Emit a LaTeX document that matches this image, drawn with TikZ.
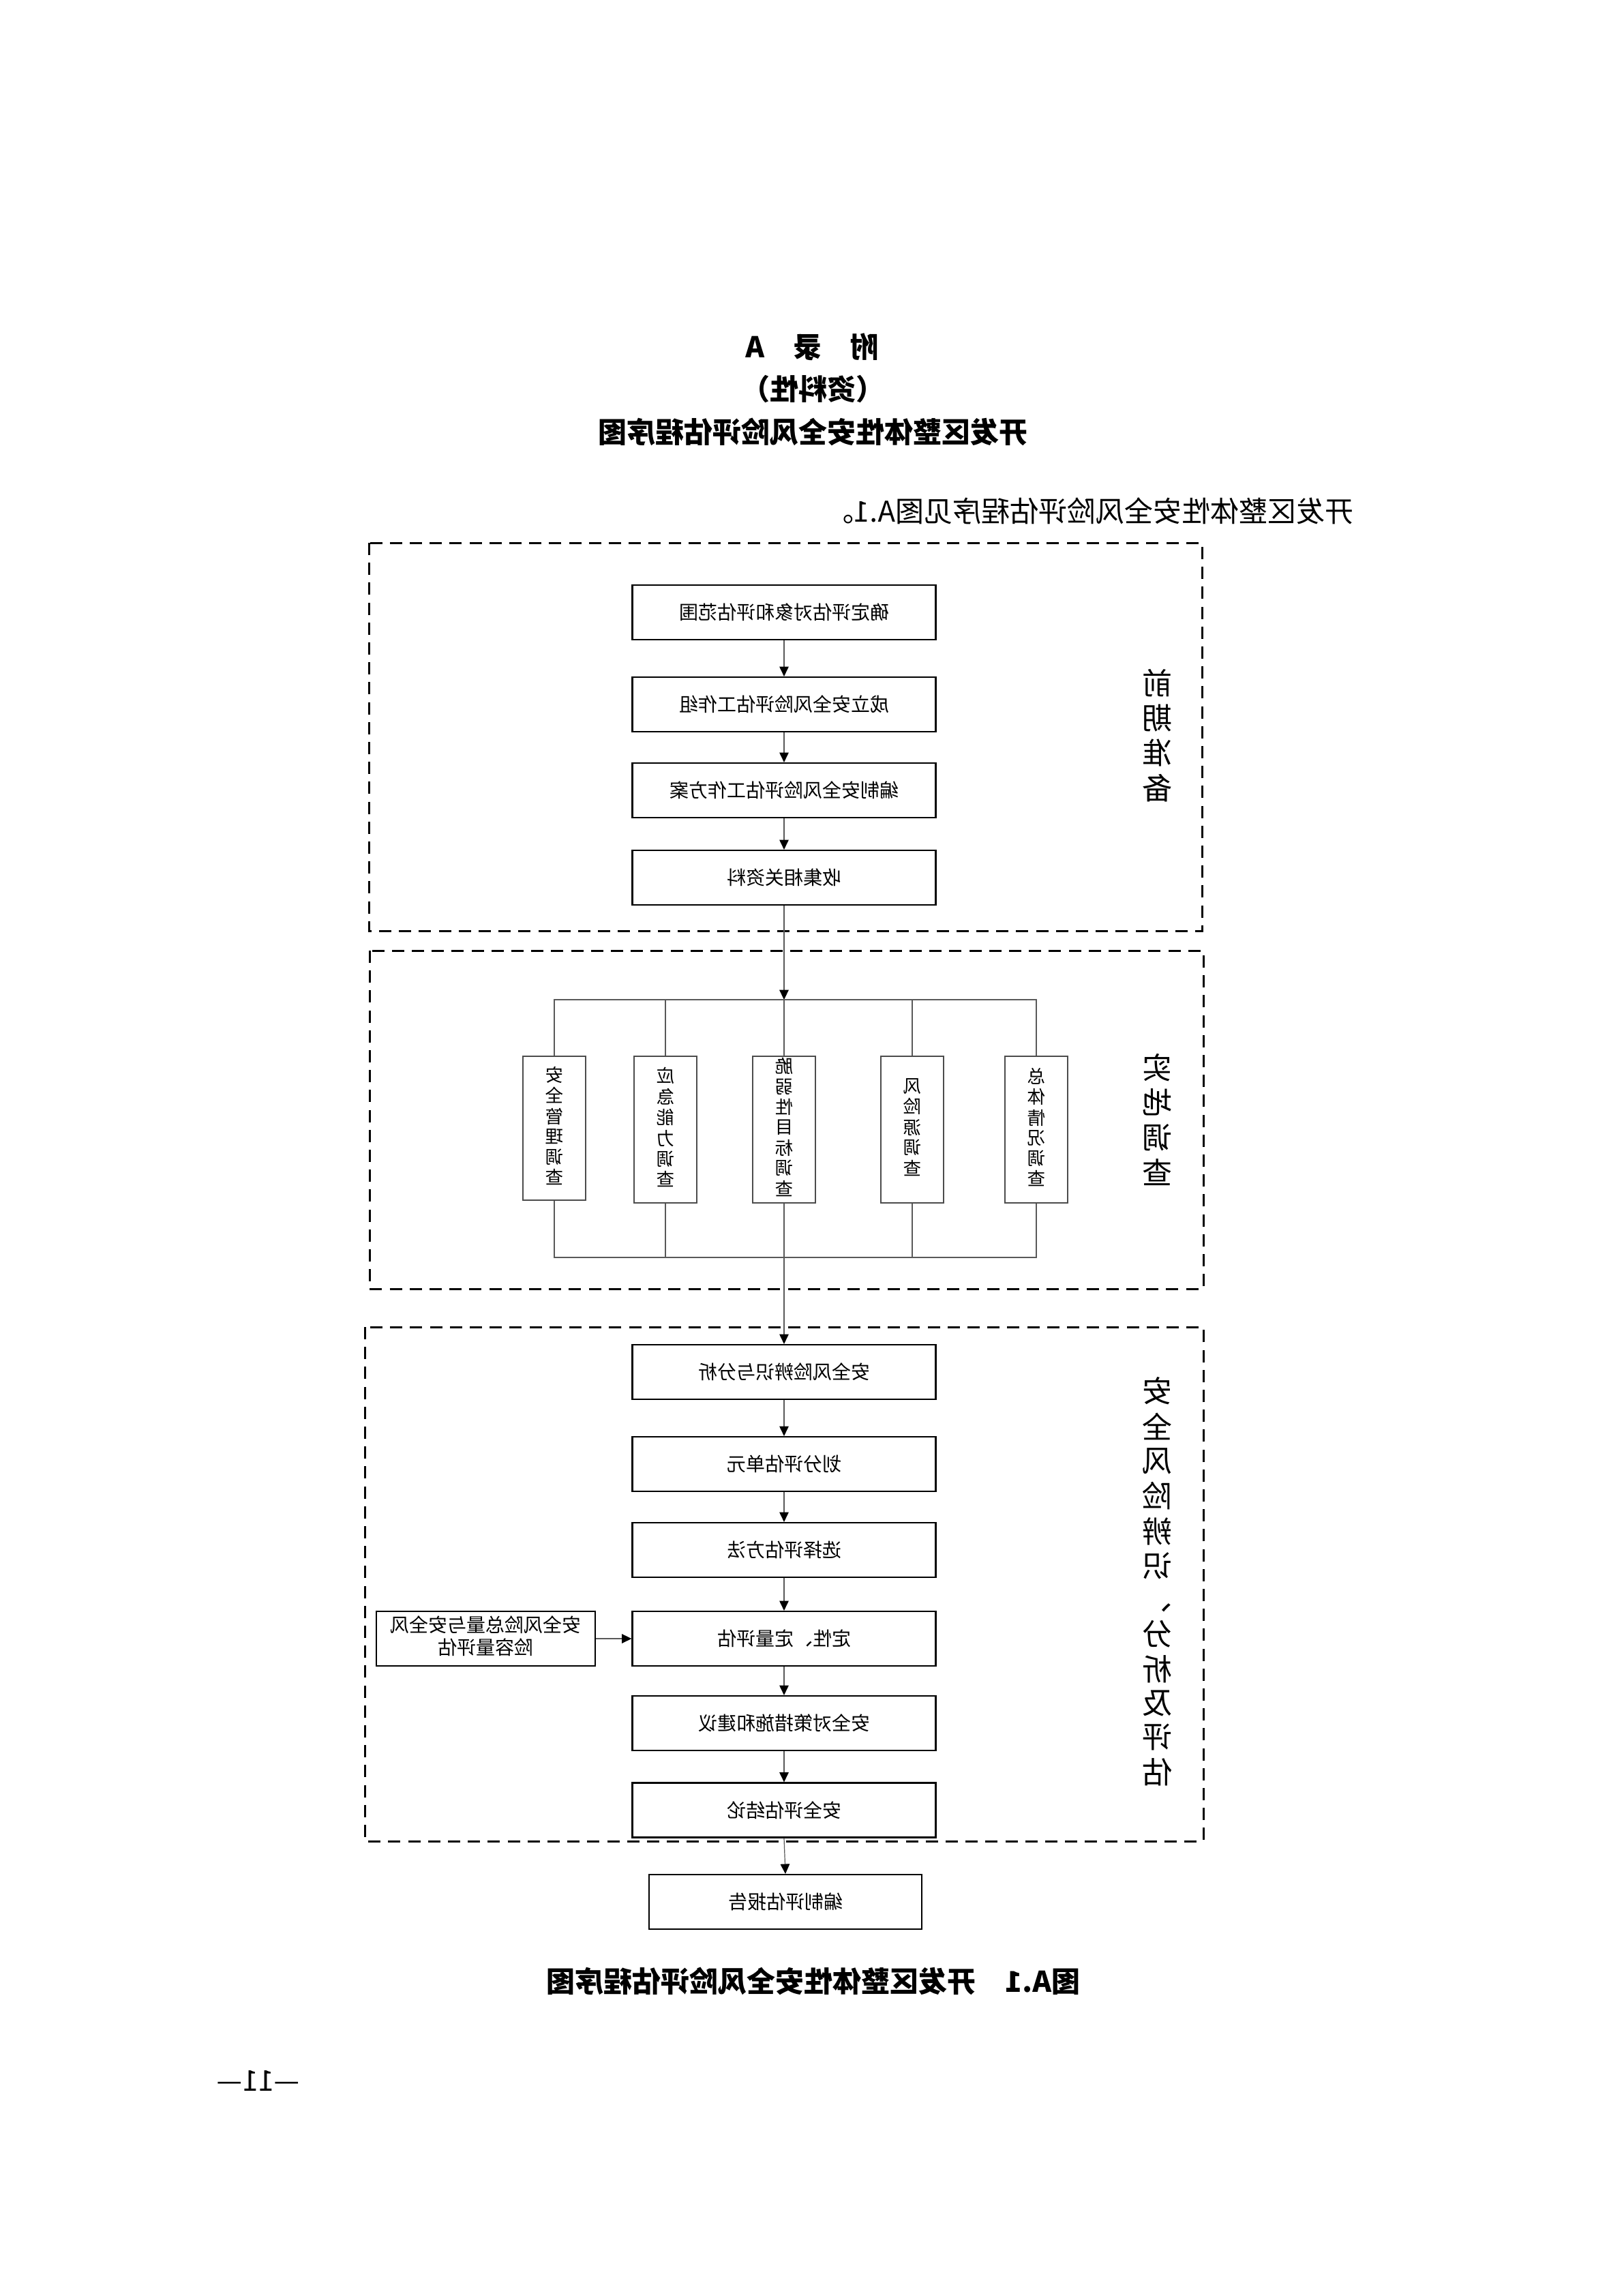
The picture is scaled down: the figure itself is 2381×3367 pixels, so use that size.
\documentclass[tikz,border=0pt]{standalone}
\usepackage{fontspec}
\usepackage{graphicx}
\newfontfamily\cjk{Noto Sans CJK SC}
\usetikzlibrary{arrows.meta}
\newdimen\px \px=0.25pt
\newcommand\mr[1]{\reflectbox{#1}}
\newcommand\vcol[1]{\reflectbox{\begin{tabular}{@{}c@{}}#1\end{tabular}}}
\begin{document}
\begin{tikzpicture}[x=0.25pt,y=-0.25pt,
  stepbox/.style={draw=black, line width=0.55pt, minimum width=445\px, minimum height=80\px, inner sep=0pt, font=\cjk\fontsize{7pt}{8pt}\selectfont},
  sidebox/.style={draw=black, line width=0.55pt, minimum width=321\px, minimum height=80\px, inner sep=0pt, font=\cjk\fontsize{7pt}{7.8pt}\selectfont},
  survbox/.style={draw=black!70, line width=0.35pt, minimum width=92\px, minimum height=215\px, inner sep=0pt, font=\cjk\fontsize{6.6pt}{6.9pt}\selectfont},
  vlabel/.style={inner sep=0pt, font=\cjk\fontsize{11pt}{12.25pt}\selectfont},
  frame/.style={draw=black, line width=0.75pt, dash pattern=on 4.5pt off 2.8pt},
  conn/.style={draw=black!65, line width=0.3pt},
  arr/.style={conn, -{Triangle[width=3.4pt,length=3.6pt,color=black]}},
  titlefont/.style={inner sep=0pt, font=\cjk\bfseries\fontsize{10.5pt}{12pt}\selectfont},
  bodyfont/.style={inner sep=0pt, font=\cjk\fontsize{10.5pt}{12pt}\selectfont}
]
\useasboundingbox[fill=white] (0,0) rectangle (2381,3367);

% headings
\node[titlefont] (h1) at (1192,509) {\mr{附　录　A}};
\node[titlefont] (h2) at (1192,571) {\mr{（资料性）}};
\node[titlefont] (h3) at (1192,633) {\mr{开发区整体性安全风险评估程序图}};
\node[bodyfont, anchor=east] (intro) at (1986,749) {\mr{开发区整体性安全风险评估程序见图A.1。}};

% frames
\draw[frame] (541,796) rectangle (1763,1365);
\draw[frame] (542,1394) rectangle (1765,1890);
\draw[frame] (535,1946) rectangle (1765,2700);

% section 1
\node[stepbox] (b1) at (1150,898) {\mr{确定评估对象和评估范围}};
\node[stepbox] (b2) at (1150,1033) {\mr{成立安全风险评估工作组}};
\node[stepbox] (b3) at (1150,1159) {\mr{编制安全风险评估工作方案}};
\node[stepbox] (b4) at (1150,1287) {\mr{收集相关资料}};
\node[vlabel] (l1) at (1697,1084) {\vcol{前\\期\\准\\备}};

\draw[arr] (b1) -- (b2);
\draw[arr] (b2) -- (b3);
\draw[arr] (b3) -- (b4);

% section 2
\coordinate (tL) at (813,1466);
\coordinate (tR) at (1520,1466);
\coordinate (tC) at (1150,1466);
\coordinate (bL) at (813,1844);
\coordinate (bR) at (1520,1844);
\coordinate (bC) at (1150,1844);
\node[survbox, minimum height=211\px] (d1) at (813,1654.5) {\vcol{安\\全\\管\\理\\调\\查}};
\node[survbox] (d2) at (976,1656.5) {\vcol{应\\急\\能\\力\\调\\查}};
\node[survbox] (d3) at (1150,1656.5) {\vcol{脆\\弱\\性\\目\\标\\调\\查}};
\node[survbox] (d4) at (1338,1656.5) {\vcol{风\\险\\源\\调\\查}};
\node[survbox] (d5) at (1520,1656.5) {\vcol{总\\体\\情\\况\\调\\查}};
\node[vlabel] (l2) at (1697,1648) {\vcol{实\\地\\调\\查}};

\draw[arr] (b4) -- (tC);
\draw[conn] (d1.north) -- (tL) -- (tR) -- (d5.north);
\draw[conn] (d2.north) -- (d2.north |- tL);
\draw[conn] (tC) -- (d3.north);
\draw[conn] (d4.north) -- (d4.north |- tL);
\draw[conn] (d1.south) -- (bL) -- (bR) -- (d5.south);
\draw[conn] (d2.south) -- (d2.south |- bL);
\draw[conn] (d3.south) -- (bC);
\draw[conn] (d4.south) -- (d4.south |- bL);

% section 3
\node[stepbox] (c1) at (1150,2012) {\mr{安全风险辨识与分析}};
\node[stepbox] (c2) at (1150,2147) {\mr{划分评估单元}};
\node[stepbox] (c3) at (1150,2273) {\mr{选择评估方法}};
\node[stepbox] (c4) at (1150,2403) {\mr{定性、定量评估}};
\node[stepbox] (c5) at (1150,2527) {\mr{安全对策措施和建议}};
\node[stepbox] (c6) at (1150,2654.5) {\mr{安全评估结论}};
\node[sidebox] (lx) at (712.5,2403) {\mr{\begin{tabular}{@{}c@{}}安全风险总量与安全风\\险容量评估\end{tabular}}};
\node[vlabel] (l3) at (1697,2325) {\vcol{安\\全\\风\\险\\辨\\识\\、\\分\\析\\及\\评\\估}};

\draw[arr] (bC) -- (c1);
\draw[arr] (c1) -- (c2);
\draw[arr] (c2) -- (c3);
\draw[arr] (c3) -- (c4);
\draw[arr] (c4) -- (c5);
\draw[arr] (c5) -- (c6);
\draw[arr] (lx) -- (c4);

% final
\node[stepbox, minimum width=400\px] (f) at (1152,2789) {\mr{编制评估报告}};
\draw[arr] (c6.south) -- (f.north);

% caption and page number
\node[titlefont] (cap) at (1193,2905) {\mr{图A.1　开发区整体性安全风险评估程序图}};
\node[bodyfont] (pg) at (379,3051) {\mr{—11—}};
\end{tikzpicture}
\end{document}
